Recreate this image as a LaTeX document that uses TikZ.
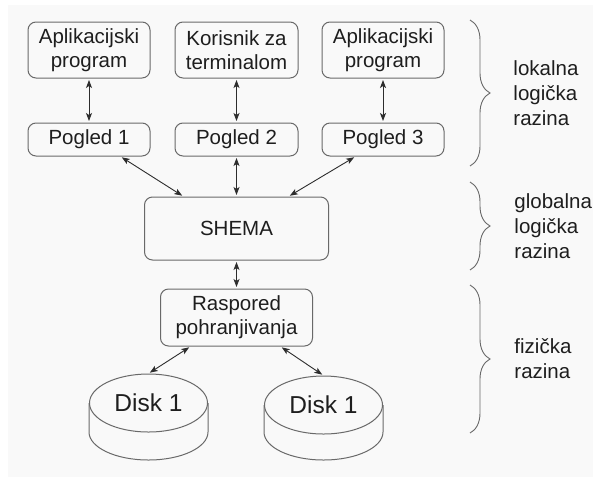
\documentclass[tikz,border=0pt]{standalone}
\usepackage{fontspec}
\setmainfont{Liberation Sans}
\usetikzlibrary{positioning,calc,arrows.meta,shapes.geometric,decorations.pathreplacing}
\definecolor{boxgray}{RGB}{105,105,105}
\definecolor{arrowgray}{RGB}{45,45,45}
\definecolor{textgray}{RGB}{30,30,30}
\definecolor{bggray}{RGB}{249,249,249}
\tikzset{link/.style={draw=arrowgray, line width=0.9pt, {Stealth[length=8pt,width=6pt,inset=2pt]}-{Stealth[length=8pt,width=6pt,inset=2pt]}, shorten <=1.5pt, shorten >=1.5pt}}

\begin{document}
\begin{tikzpicture}[x=1pt, y=-1pt, node distance = 24pt]
\tikzstyle{box} = [rectangle, rounded corners=8pt, draw=boxgray, line width=1pt, text=textgray, align=center, inner sep=2pt, font=\fontsize{20.5}{24}\selectfont]
\tikzstyle{prog} = [box, minimum width=122pt, minimum height=56pt]
\tikzstyle{view} = [box, minimum width=122pt, minimum height=33pt]
\tikzstyle{disktop} = [ellipse, draw=boxgray, line width=1pt, text=textgray, minimum width=118pt, minimum height=58pt, inner sep=0pt, font=\fontsize{24.5}{28}\selectfont]
\tikzstyle{level} = [text=textgray, align=left, anchor=west, inner sep=0pt, font=\fontsize{20.5}{25}\selectfont]
\tikzstyle{lbrace} = [draw=boxgray, line width=0.9pt, decorate, decoration={brace, amplitude=20pt}]

% pozadina
\useasboundingbox (0,0) rectangle (593,477);
\fill[white] (0,0) rectangle (593,477);
\fill[bggray] (8,5) rectangle (593,477);

% lokalna razina
\node [prog] (app1) at (89,50) {Aplikacijski\\program};
\node [prog, right=24pt of app1, minimum width=123pt] (kor) {Korisnik za\\terminalom};
\node [prog, right=23pt of kor] (app3) {Aplikacijski\\program};

\node [view, below=44pt of app1] (pog1) {Pogled 1};
\node [view, below=44pt of kor, minimum width=123pt] (pog2) {Pogled 2};
\node [view, below=44pt of app3] (pog3) {Pogled 3};

% globalna i fizicka razina
\node [box, below=40pt of pog2, minimum width=184pt, minimum height=63pt] (shema) {SHEMA};
\node [box, below=28pt of shema, minimum width=152pt, minimum height=57pt] (ras) {Raspored\\pohranjivanja};

% diskovi
\node [disktop] (disk1) at (148.5,403) {Disk 1};
\draw [draw=boxgray, line width=1pt] (disk1.west) -- ++(0,29) arc[start angle=180, end angle=360, x radius=59.5pt, y radius=28pt] -- (disk1.east);
\node [disktop] (disk2) at (323.5,405) {Disk 1};
\draw [draw=boxgray, line width=1pt] (disk2.west) -- ++(0,27) arc[start angle=180, end angle=360, x radius=59.5pt, y radius=28pt] -- (disk2.east);

% veze
\draw [link] (app1) -- (pog1);
\draw [link] (kor) -- (pog2);
\draw [link] (app3) -- (pog3);
\draw [link] ($(pog1.south east)+(-30,0)$) -- ($(shema.north)+(-53,0)$);
\draw [link] (pog2) -- (shema);
\draw [link] ($(pog3.south west)+(34,0)$) -- ($(shema.north)+(52,0)$);
\draw [link] (shema) -- (ras);
\draw [link] ($(ras.south)+(-46,0)$) -- (disk1.north);
\draw [link] ($(ras.south)+(44,0)$) -- (disk2.north);

% viticaste zagrade
\draw [lbrace] (470,20) -- (470,166) node [level, midway, xshift=43pt] (lok) {lokalna\\logička\\razina};
\draw [lbrace] (470,182) -- (470,270) node [level, midway, xshift=44pt] (glob) {globalna\\logička\\razina};
\draw [lbrace] (470,285) -- (470,433) node [level, midway, xshift=44pt] (fiz) {fizička\\razina};

\end{tikzpicture}
\end{document}
